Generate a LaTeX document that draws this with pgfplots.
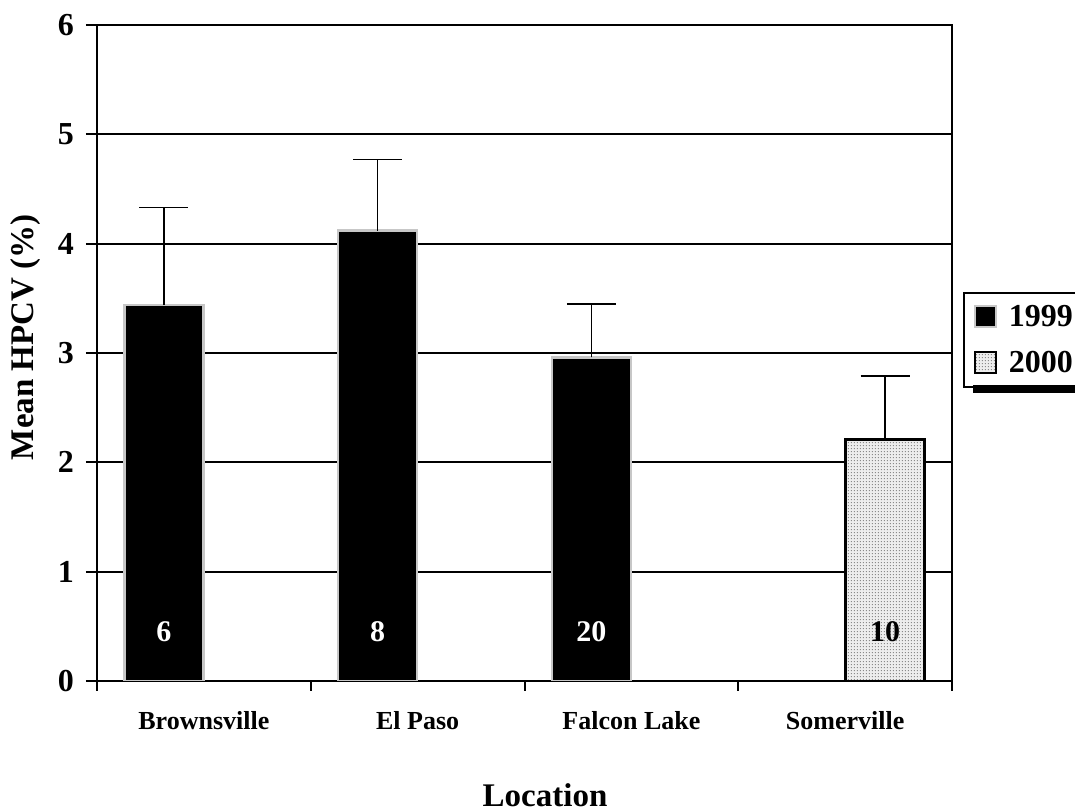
\documentclass[border=0pt]{standalone}
\usepackage{fontspec}
\setmainfont{Liberation Serif}
\usepackage{pgfplots}
\pgfplotsset{compat=1.18}
\usetikzlibrary{patterns.meta}

% fine dot screen used for the 2000 bar
\tikzdeclarepattern{
  name=finedots,
  type=uncolored,
  bottom left={(0pt,0pt)},
  top right={(1.6pt,1.6pt)},
  tile size={(1.6pt,1.6pt)},
  code={\pgfpathcircle{\pgfpoint{0.8pt}{0.8pt}}{0.32pt}\pgfusepath{fill}}
}

\begin{document}
\begin{tikzpicture}
\useasboundingbox (-48.5pt,-65.5pt) rectangle (489pt,340.5pt);
\begin{axis}[
  at={(0,0)}, anchor=south west,
  scale only axis,
  width=427.5pt, height=328pt,
  xmin=-0.5, xmax=3.5,
  ymin=0, ymax=6,
  ytick={0,1,...,6},
  xtick={0,1,2,3},
  xticklabels={Brownsville, El Paso, Falcon Lake, Somerville},
  minor xtick={-0.5,0.5,1.5,2.5,3.5},
  tick pos=left,
  tick align=outside,
  major tick length=5.5pt,
  minor tick length=5pt,
  major x tick style={draw=none},
  every tick/.style={black, line width=1pt},
  minor x tick style={black, line width=1pt},
  axis line style={black, line width=1pt},
  ymajorgrids,
  major grid style={black, line width=1pt},
  /pgf/number format/assume math mode=true,
  yticklabel style={font=\bfseries\fontsize{16}{18}\selectfont, xshift=-2.5pt},
  xticklabel style={font=\bfseries\fontsize{13}{15}\selectfont, yshift=-6pt},
  ylabel={Mean HPCV (\%)},
  every axis y label/.style={at={(axis description cs:-0.083,0.524)},
    rotate=90, anchor=center, font=\bfseries\fontsize{16.5}{19}\selectfont},
  xlabel={Location},
  every axis x label/.style={at={(axis description cs:0.524,0)},
    yshift=-63pt, anchor=base, font=\bfseries\fontsize{16.5}{19}\selectfont},
  legend style={
    name=lgd,
    at={(1.0129,0.593)}, anchor=north west,
    draw=black, line width=1pt,
    fill=white,
    font=\bfseries\fontsize{16}{18}\selectfont,
    row sep=7pt,
    inner xsep=5pt, inner ysep=4pt,
    /tikz/every odd column/.style={column sep=4pt},
  },
  legend cell align=left,
  legend image code/.code={
    \draw[#1, line width=0.9pt] (0pt,-5pt) rectangle (10.5pt,5.5pt);
  },
]

% 1999 sampling (left bar of each location)
\addplot[ybar, bar width=39.5pt, bar shift=0pt,
  fill=black, draw=black!22, line width=1.2pt,
  error bars/.cd, y dir=plus, y explicit, error mark=|,
  error bar style={black, line width=0.8pt},
  error mark options={black, line width=0.8pt, mark size=12.25pt}]
  coordinates {
    (-0.187,3.44) +- (0,0.89)
    (0.813,4.12) +- (0,0.65)
    (1.813,2.96) +- (0,0.49)
  };
\addlegendentry{1999\hspace{5pt}}

% 2000 sampling (right bar of each location)
\addplot[ybar, bar width=39.5pt, bar shift=0pt,
  fill=black!7, draw=black, line width=1.2pt,
  postaction={pattern={finedots}, pattern color=black!60},
  error bars/.cd, y dir=plus, y explicit, error mark=|,
  error bar style={black, line width=0.8pt},
  error mark options={black, line width=0.8pt, mark size=12.25pt}]
  coordinates {
    (3.187,2.21) +- (0,0.58)
  };
\addlegendentry{2000\hspace{5pt}}

% sample sizes
\node[font=\bfseries\fontsize{15}{17}\selectfont, text=white] at (axis cs:-0.187,0.45) {6};
\node[font=\bfseries\fontsize{15}{17}\selectfont, text=white] at (axis cs:0.813,0.45) {8};
\node[font=\bfseries\fontsize{15}{17}\selectfont, text=white] at (axis cs:1.813,0.45) {20};
\node[font=\bfseries\fontsize{15}{17}\selectfont, text=black] at (axis cs:3.187,0.45) {10};
\end{axis}
% shadow strip under the legend box
\fill[black] ([xshift=5pt,yshift=1.5pt]lgd.south west) rectangle ([xshift=5pt,yshift=-2.5pt]lgd.south east);
\fill[black] ([xshift=-1pt,yshift=-5pt]lgd.north east) rectangle ([xshift=5pt,yshift=-2.5pt]lgd.south east);
\end{tikzpicture}
\end{document}
